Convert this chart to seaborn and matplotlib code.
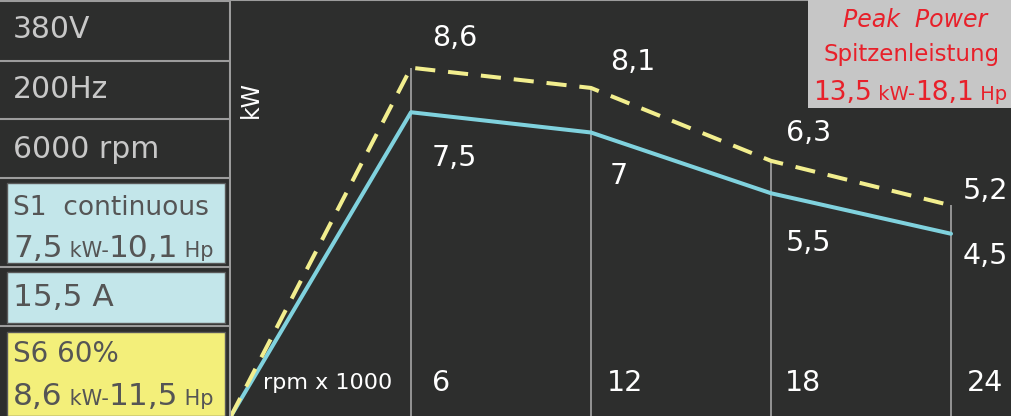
import matplotlib
matplotlib.use("Agg")
import matplotlib.pyplot as plt
import numpy as np
import pandas as pd
import seaborn as sns
from matplotlib.patches import Rectangle
from matplotlib.transforms import IdentityTransform

# datos
rpm = [0, 6, 12, 18, 24]
s1_kw = [0, 7.5, 7, 5.5, 4.5]
s6_kw = [0, 8.6, 8.1, 6.3, 5.2]
s1_labels = ["", "7,5", "7", "5,5", "4,5"]
s6_labels = ["", "8,6", "8,1", "6,3", "5,2"]
x_ticks = [6, 12, 18, 24]
x_tick_labels = ["6", "12", "18", "24"]

BG = "#2d2e2d"
GRID = "#9c9c9c"
BLUE = "#80d2de"
YELLOW = "#f2ee8e"
W, H = 1011, 416

sns.set_style("dark", {"axes.facecolor": BG, "figure.facecolor": BG})
plt.rcParams["font.family"] = ["DejaVu Sans"]

fig = plt.figure(figsize=(W / 100, H / 100), dpi=100)
fig.patch.set_facecolor(BG)
renderer = fig.canvas.get_renderer()


def runs(x, y_img, parts, color, zorder=3):
    # texto con tamaños mezclados (ej. "7,5 kW-10,1 Hp")
    for s, size in parts:
        t = fig.text(x, H - y_img, s, fontsize=size, color=color,
                     transform=IdentityTransform(), va="baseline", ha="left",
                     zorder=zorder)
        x += t.get_window_extent(renderer).width


# --- panel izquierdo ---
axl = fig.add_axes([0, 0, 231 / W, 1])
axl.set_xlim(0, 231)
axl.set_ylim(H, 0)
axl.set_axis_off()
axl.add_patch(Rectangle((0, 0), 231, H, color=BG, zorder=0))
for yy in [1, 61, 119, 178, 267, 326]:
    axl.axhline(yy, color=GRID, lw=1.5)
axl.axvline(229.5, color=GRID, lw=1.5)
for y0, y1, col in [(183, 263, "#c3e6ea"), (272, 323, "#c3e6ea"), (332, 416, "#f3ef7a")]:
    axl.add_patch(Rectangle((7, y0), 218, y1 - y0, facecolor=col,
                            edgecolor="#5a5a5a", lw=1))

dark_txt = "#c8c8c8"
box_txt = "#555555"
for txt, yc in [("380V", 30), ("200Hz", 90), ("6000 rpm", 150)]:
    axl.text(13, yc, txt, fontsize=21.5, color=dark_txt, va="center", ha="left")
axl.text(13, 208, "S1  continuous", fontsize=19, color=box_txt, va="center")
runs(13, 257, [("7,5", 22.5), (" kW-", 15), ("10,1", 22.5), (" Hp", 15)], box_txt)
axl.text(13, 298, "15,5 A", fontsize=22.5, color=box_txt, va="center")
axl.text(13, 354, "S6 60%", fontsize=20, color=box_txt, va="center")
runs(13, 405, [("8,6", 22.5), (" kW-", 15), ("11,5", 22.5), (" Hp", 15)], box_txt)

# --- gráfico principal ---
ax = fig.add_axes([231 / W, 0, (W - 231) / W, 1])
ax.set_facecolor(BG)

df = pd.DataFrame({"rpm": rpm * 2,
                   "kW": s1_kw + s6_kw,
                   "serie": ["S1"] * len(rpm) + ["S6"] * len(rpm)})

ax.vlines(rpm[1:], 0, s6_kw[1:], color=GRID, lw=1.3, zorder=1)
sns.lineplot(data=df, x="rpm", y="kW", hue="serie", style="serie",
             palette={"S1": BLUE, "S6": YELLOW},
             dashes={"S1": "", "S6": (5.0, 3.2)},
             lw=2.9, legend=False, ax=ax, zorder=3)

ax.set_xlim(0, 26)
ax.set_ylim(0, H / 40.5)
ax.set_xticks([])
ax.set_yticks([])
ax.set_xlabel("")
ax.set_ylabel("")
for sp in ax.spines.values():
    sp.set_visible(False)
ax.axhline(H / 40.5, color=GRID, lw=1.5)

top_off = [None, (21, 30), (19, 26), (15, 28), (12, 14)]
bot_off = [None, (21, -46), (19, -43), (15, -50), (12, -22)]
for i in range(1, len(rpm)):
    ax.annotate(s6_labels[i], (rpm[i], s6_kw[i]), xytext=top_off[i],
                textcoords="offset pixels", color="white", fontsize=20.5,
                va="center", ha="left")
    ax.annotate(s1_labels[i], (rpm[i], s1_kw[i]), xytext=bot_off[i],
                textcoords="offset pixels", color="white", fontsize=20.5,
                va="center", ha="left")

tick_off = [21, 16, 14, 16]
for xt, lab, dx in zip(x_ticks, x_tick_labels, tick_off):
    ax.annotate(lab, (xt, 0), xytext=(dx, 33), textcoords="offset pixels",
                color="white", fontsize=20.5, va="center", ha="left")

ax.text(32 / 780, 33 / H, "rpm x 1000", transform=ax.transAxes,
        color="white", fontsize=16, va="center", ha="left")
ax.text(20 / 780, 1 - 100 / H, "kW", transform=ax.transAxes, rotation=90,
        color="white", fontsize=17, va="center", ha="center")

# recuadro Peak Power
fig.patches.append(Rectangle((808, H - 108), W - 808, 108, facecolor="#c6c6c6",
                             edgecolor="none", transform=IdentityTransform(),
                             figure=fig, zorder=5))
RED = "#e8202a"
fig.text(915, H - 20, "Peak  Power", transform=IdentityTransform(), fontsize=17,
         color=RED, style="italic", ha="center", va="center", zorder=6)
fig.text(912, H - 55, "Spitzenleistung", transform=IdentityTransform(),
         fontsize=16.5, color=RED, ha="center", va="center", zorder=6)
runs(813, 100, [("13,5", 19), (" kW-", 14), ("18,1", 19), (" Hp", 14)],
     RED, zorder=6)

fig.savefig("out.png", dpi=100, facecolor=BG)
